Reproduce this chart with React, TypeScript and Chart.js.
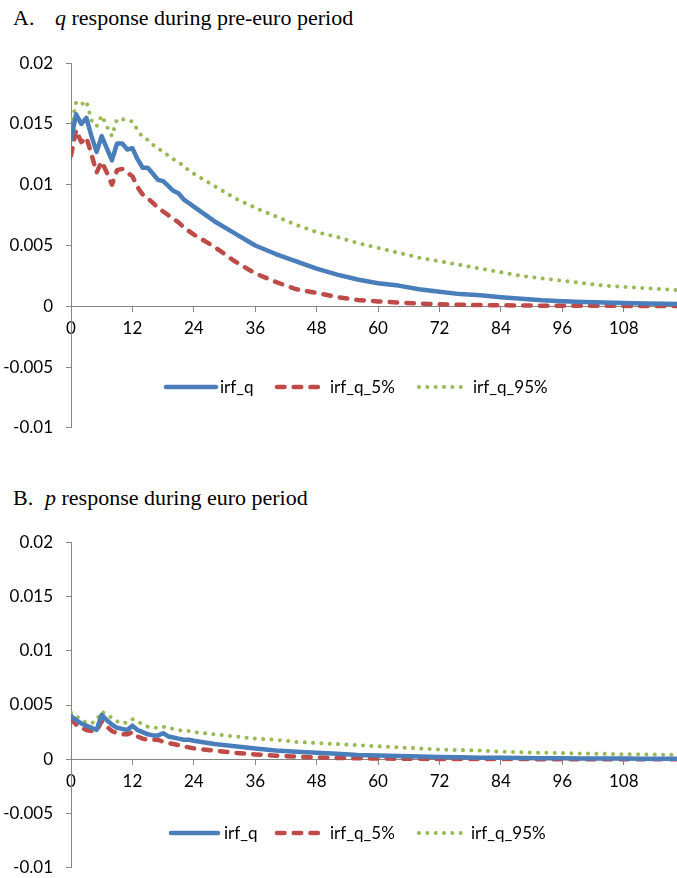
import React, { useEffect, useRef } from "react";
import { Chart, registerables } from "chart.js";

Chart.register(...registerables);

// ---------- data ----------
const months = [
  0, 1, 2, 3, 4, 5, 6, 7, 8, 9, 10, 11, 12, 13, 14, 15, 16, 17, 18, 19, 20, 21, 22, 23, 24,
  28, 32, 36, 40, 44, 48, 52, 56, 60, 64, 68, 72, 76, 80, 84, 88, 92, 96, 100, 104, 108, 112, 116, 120,
];

// Panel A: q response during pre-euro period
const irfQ_A = [
  0.0137, 0.0158, 0.015, 0.0155, 0.014, 0.0127, 0.014, 0.013, 0.012, 0.0134, 0.0134, 0.0129, 0.013,
  0.0121, 0.0114, 0.0114, 0.0109, 0.0104, 0.0103, 0.0099, 0.0095, 0.0093, 0.0088, 0.0085, 0.0082,
  0.007, 0.006, 0.005, 0.0043, 0.0037, 0.0031, 0.0026, 0.0022, 0.0019, 0.0017, 0.0014, 0.0012,
  0.001, 0.0009, 0.00075, 0.00062, 0.0005, 0.00042, 0.00036, 0.0003, 0.00026, 0.00022, 0.0002, 0.00018,
];
const irfQ5_A = [
  0.0124, 0.0145, 0.0135, 0.0139, 0.0125, 0.011, 0.0119, 0.011, 0.01, 0.0112, 0.0113, 0.011, 0.0107,
  0.0098, 0.0092, 0.0089, 0.0085, 0.0081, 0.0078, 0.0075, 0.0072, 0.0069, 0.0065, 0.0062, 0.0059,
  0.0049, 0.0037, 0.0027, 0.002, 0.0014, 0.0011, 0.00075, 0.00052, 0.0004, 0.0003, 0.00022, 0.00016,
  0.00012, 0.0001, 0.00008, 0.00006, 0.00005, 0.00005, 0.00004, 0.00004, 0.00003, 0.00003, 0.00003, 0.00002,
];
const irfQ95_A = [
  0.0147, 0.0168, 0.0166, 0.0169, 0.0153, 0.0148, 0.0157, 0.0148, 0.014, 0.0154, 0.0154, 0.0153, 0.0152,
  0.0145, 0.0139, 0.0137, 0.0133, 0.013, 0.0127, 0.0124, 0.0121, 0.0119, 0.0115, 0.0112, 0.0109,
  0.0099, 0.0089, 0.0081, 0.0074, 0.0067, 0.0061, 0.0057, 0.0052, 0.0048, 0.0044, 0.004, 0.0037,
  0.0034, 0.0031, 0.0028, 0.0025, 0.0023, 0.0021, 0.0019, 0.0017, 0.0016, 0.0015, 0.0014, 0.0013,
];

// Panel B: p response during euro period
const irfQ_B = [
  0.004, 0.0036, 0.0033, 0.0031, 0.0029, 0.0027, 0.0041, 0.0036, 0.0032, 0.0029, 0.0028, 0.0027, 0.0031,
  0.0027, 0.0025, 0.0023, 0.0022, 0.0022, 0.0024, 0.0021, 0.002, 0.0019, 0.0018, 0.0018, 0.0017,
  0.0014, 0.0012, 0.001, 0.0008, 0.0007, 0.0006, 0.0005, 0.0004, 0.00035, 0.0003, 0.00025, 0.0002,
  0.00018, 0.00015, 0.00013, 0.00011, 0.0001, 0.00009, 0.00008, 0.00007, 0.00006, 0.00005, 0.00005, 0.00004,
];
const irfQ5_B = [
  0.0037, 0.0032, 0.0029, 0.0027, 0.0026, 0.0026, 0.0035, 0.003, 0.0026, 0.0024, 0.0023, 0.0023, 0.0025,
  0.0021, 0.0019, 0.0018, 0.0018, 0.0018, 0.0016, 0.0015, 0.0014, 0.0013, 0.0012, 0.0011, 0.001,
  0.0008, 0.0006, 0.00045, 0.00033, 0.00024, 0.00017, 0.00012, 0.00009, 0.00007, 0.00005, 0.00004, 0.00003,
  0.00003, 0.00002, 0.00002, 0.00002, 0.00001, 0.00001, 0.00001, 0.00001, 0.00001, 0.00001, 0.00001, 0.00001,
];
const irfQ95_B = [
  0.0043, 0.004, 0.0036, 0.0034, 0.0033, 0.0036, 0.0044, 0.0041, 0.0038, 0.0035, 0.0033, 0.0034, 0.0037,
  0.0035, 0.0032, 0.003, 0.0029, 0.0029, 0.003, 0.0029, 0.0028, 0.0027, 0.0026, 0.0026, 0.0025,
  0.0023, 0.0021, 0.0019, 0.0018, 0.0016, 0.0015, 0.0014, 0.0013, 0.0012, 0.0011, 0.001, 0.0009,
  0.00085, 0.0008, 0.0007, 0.00065, 0.0006, 0.00057, 0.00053, 0.0005, 0.00047, 0.00045, 0.00042, 0.0004,
];

const seriesNames = ["irf_q", "irf_q_5%", "irf_q_95%"];
const xTicks = [0, 12, 24, 36, 48, 60, 72, 84, 96, 108];
const xTickLabels = ["0", "12", "24", "36", "48", "60", "72", "84", "96", "108"];
const yTicks = [-0.01, -0.005, 0, 0.005, 0.01, 0.015, 0.02];
const yTickLabels = ["-0.01", "-0.005", "0", "0.005", "0.01", "0.015", "0.02"];

// ---------- styles ----------
const FONT = "Lato";
const AXIS_GRAY = "#868686";
const colors = ["#4A7EBB", "#BE4B48", "#98B954"];
const widths = [4.5, 4.5, 4];
const dashes: number[][] = [[], [7.5, 9.2], [0.01, 8.33]];
const caps = ["round", "round", "round"];

const inlineLegend = {
  id: "inlineLegend",
  afterDatasetsDraw(chart: any, _args: any, opts: any) {
    const ctx = chart.ctx as CanvasRenderingContext2D;
    ctx.save();
    chart.data.datasets.forEach((ds: any, i: number) => {
      const it = opts.items[i];
      ctx.beginPath();
      ctx.strokeStyle = ds.borderColor;
      ctx.lineWidth = ds.borderWidth;
      ctx.setLineDash(ds.borderDash || []);
      ctx.lineCap = ds.borderCapStyle;
      ctx.moveTo(it.x0, opts.y);
      ctx.lineTo(it.x1, opts.y);
      ctx.stroke();
      ctx.setLineDash([]);
      ctx.fillStyle = "#000";
      ctx.font = `17px ${FONT}`;
      ctx.textBaseline = "middle";
      ctx.textAlign = "left";
      ctx.fillText(ds.label, it.tx, opts.y + 1);
    });
    ctx.restore();
  },
};

function makeConfig(vals: number[][], legend: any): any {
  return {
    type: "line",
    data: {
      datasets: seriesNames.map((name, i) => ({
        label: name,
        data: months.map((m, j) => ({ x: m, y: vals[i][j] })),
        borderColor: colors[i],
        backgroundColor: colors[i],
        borderWidth: widths[i],
        borderDash: dashes[i],
        borderCapStyle: caps[i],
        borderJoinStyle: "round",
        pointRadius: 0,
        fill: false,
        tension: 0,
      })),
    },
    options: {
      animation: false,
      responsive: false,
      maintainAspectRatio: false,
      events: [],
      layout: { padding: 0 },
      plugins: {
        legend: { display: false },
        tooltip: { enabled: false },
        title: { display: false },
        inlineLegend: legend,
      },
      scales: {
        x: {
          type: "linear",
          position: { y: 0 },
          min: 0,
          max: 118.4,
          afterFit: (s: any) => {
            s.height = 0;
          },
          afterBuildTicks: (s: any) => {
            s.ticks = xTicks.map((v) => ({ value: v }));
          },
          grid: { drawOnChartArea: false, drawTicks: true, tickLength: 5, color: AXIS_GRAY },
          border: { color: AXIS_GRAY, width: 1 },
          ticks: {
            color: "#000",
            font: { family: FONT, size: 17 },
            padding: 7,
            maxRotation: 0,
            autoSkip: false,
            callback: (_v: any, i: number) => xTickLabels[i],
          },
        },
        y: {
          type: "linear",
          min: -0.01,
          max: 0.02,
          afterFit: (s: any) => {
            s.width = 71;
          },
          afterBuildTicks: (s: any) => {
            s.ticks = yTicks.map((v) => ({ value: v }));
          },
          grid: { drawOnChartArea: false, drawTicks: true, tickLength: 5, color: AXIS_GRAY },
          border: { color: AXIS_GRAY, width: 1 },
          ticks: {
            color: "#000",
            font: { family: FONT, size: 17 },
            padding: 13,
            autoSkip: false,
            callback: (_v: any, i: number) => yTickLabels[i],
          },
        },
      },
    },
    plugins: [inlineLegend],
  };
}

function Panel({ top, height, vals, legend }: { top: number; height: number; vals: number[][]; legend: any }) {
  const ref = useRef<HTMLCanvasElement | null>(null);
  useEffect(() => {
    if (!ref.current) return;
    const chart = new Chart(ref.current, makeConfig(vals, legend));
    return () => chart.destroy();
  }, []);
  return (
    <canvas
      ref={ref}
      width={677}
      height={height}
      style={{ position: "absolute", left: 0, top, width: 677, height }}
    />
  );
}

const titleStyle: React.CSSProperties = {
  position: "absolute",
  fontFamily: "'Liberation Serif', 'Times New Roman', serif",
  fontSize: 22,
  lineHeight: "22px",
  color: "#000",
  whiteSpace: "nowrap",
};

export default function App() {
  return (
    <div
      style={{
        position: "absolute",
        left: 0,
        top: 0,
        width: 677,
        height: 878,
        overflow: "hidden",
        background: "#fff",
      }}
    >
      <span style={{ ...titleStyle, left: 13, top: 7 }}>A.</span>
      <span style={{ ...titleStyle, left: 55, top: 7 }}>
        <i>q</i> response during pre-euro period
      </span>
      <Panel
        top={40}
        height={411}
        vals={[irfQ_A, irfQ5_A, irfQ95_A]}
        legend={{
          y: 347,
          items: [
            { x0: 166, x1: 216, tx: 220 },
            { x0: 277, x1: 320, tx: 330 },
            { x0: 419, x1: 465, tx: 473 },
          ],
        }}
      />
      <span style={{ ...titleStyle, left: 13, top: 487 }}>B.</span>
      <span style={{ ...titleStyle, left: 45, top: 487 }}>
        <i>p</i> response during euro period
      </span>
      <Panel
        top={519}
        height={372}
        vals={[irfQ_B, irfQ5_B, irfQ95_B]}
        legend={{
          y: 314,
          items: [
            { x0: 171, x1: 218, tx: 224 },
            { x0: 277, x1: 321, tx: 330 },
            { x0: 419, x1: 463, tx: 471 },
          ],
        }}
      />
    </div>
  );
}
